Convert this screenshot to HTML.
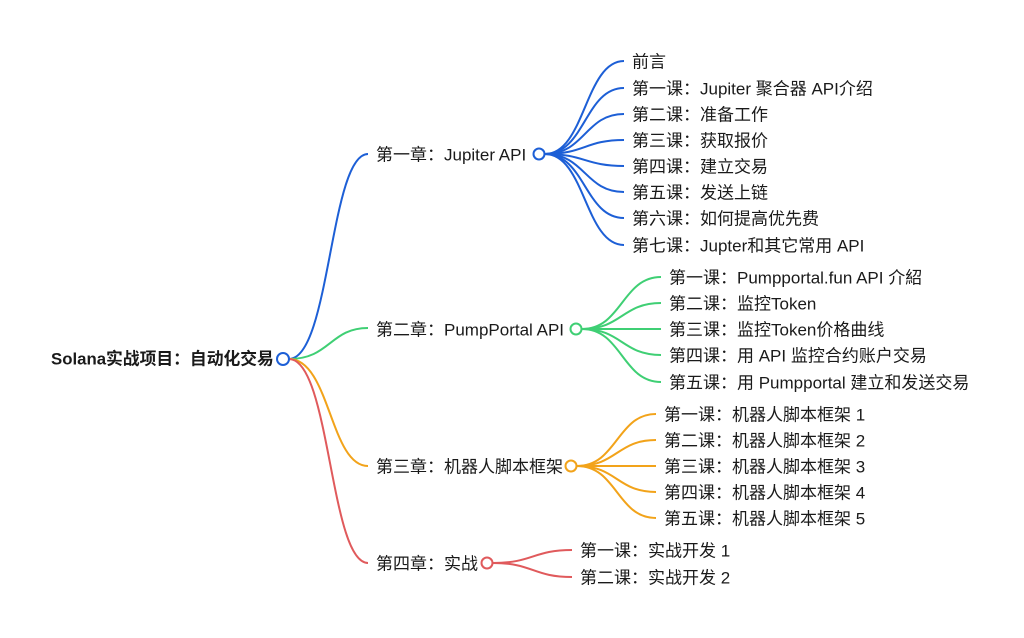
<!DOCTYPE html>
<html><head><meta charset="utf-8"><style>
html,body{margin:0;padding:0;background:#fff;}
svg{display:block}
text{font-family:"Liberation Sans","Noto Sans CJK SC",sans-serif;font-size:17px;fill:#1a1a1a;dominant-baseline:central}
path{fill:none;stroke-width:2}
</style></head><body>
<svg width="1024" height="638" viewBox="0 0 1024 638" xmlns="http://www.w3.org/2000/svg">
<text x="51" y="359" style="font-weight:bold;font-size:16.8px">Solana实战项目：自动化交易</text>
<path d="M289 359 C330 359 330 154 368 154" stroke="#1d5fd6"/>
<path d="M289 359 C330 359 330 328 368 328" stroke="#3fcf74"/>
<path d="M289 359 C330 359 330 466 368 466" stroke="#f2a31a"/>
<path d="M289 359 C330 359 330 563 368 563" stroke="#e05a5c"/>
<circle cx="283" cy="359" r="6" fill="#fff" stroke="#1d5fd6" stroke-width="2"/>

<text x="376" y="155">第一章：Jupiter API</text>
<g stroke="#1d5fd6">
<path d="M545 154 C585 154 585 61 624 61"/>
<path d="M545 154 C585 154 585 88 624 88"/>
<path d="M545 154 C585 154 585 114 624 114"/>
<path d="M545 154 C585 154 585 140 624 140"/>
<path d="M545 154 C585 154 585 166 624 166"/>
<path d="M545 154 C585 154 585 192 624 192"/>
<path d="M545 154 C585 154 585 218 624 218"/>
<path d="M545 154 C585 154 585 245 624 245"/>
</g>
<circle cx="539" cy="154" r="5.5" fill="#fff" stroke="#1d5fd6" stroke-width="2"/>
<text x="632" y="62">前言</text>
<text x="632" y="89">第一课：Jupiter 聚合器 API介绍</text>
<text x="632" y="115">第二课：准备工作</text>
<text x="632" y="141">第三课：获取报价</text>
<text x="632" y="167">第四课：建立交易</text>
<text x="632" y="193">第五课：发送上链</text>
<text x="632" y="219">第六课：如何提高优先费</text>
<text x="632" y="246">第七课：Jupter和其它常用 API</text>

<text x="376" y="330">第二章：PumpPortal API</text>
<g stroke="#3fcf74">
<path d="M582 329 C622 329 622 277 661 277"/>
<path d="M582 329 C622 329 622 303 661 303"/>
<path d="M582 329 C622 329 622 329 661 329"/>
<path d="M582 329 C622 329 622 355 661 355"/>
<path d="M582 329 C622 329 622 382 661 382"/>
</g>
<circle cx="576" cy="329" r="5.5" fill="#fff" stroke="#3fcf74" stroke-width="2"/>
<text x="669" y="278">第一课：Pumpportal.fun API 介紹</text>
<text x="669" y="304">第二课：监控Token</text>
<text x="669" y="330">第三课：监控Token价格曲线</text>
<text x="669" y="356">第四课：用 API 监控合约账户交易</text>
<text x="669" y="383">第五课：用 Pumpportal 建立和发送交易</text>

<text x="376" y="467">第三章：机器人脚本框架</text>
<g stroke="#f2a31a">
<path d="M577 466 C617 466 617 414 656 414"/>
<path d="M577 466 C617 466 617 440 656 440"/>
<path d="M577 466 C617 466 617 466 656 466"/>
<path d="M577 466 C617 466 617 492 656 492"/>
<path d="M577 466 C617 466 617 518 656 518"/>
</g>
<circle cx="571" cy="466" r="5.5" fill="#fff" stroke="#f2a31a" stroke-width="2"/>
<text x="664" y="415">第一课：机器人脚本框架 1</text>
<text x="664" y="441">第二课：机器人脚本框架 2</text>
<text x="664" y="467">第三课：机器人脚本框架 3</text>
<text x="664" y="493">第四课：机器人脚本框架 4</text>
<text x="664" y="519">第五课：机器人脚本框架 5</text>

<text x="376" y="564">第四章：实战</text>
<g stroke="#e05a5c">
<path d="M493 563 C533 563 533 550 572 550"/>
<path d="M493 563 C533 563 533 577 572 577"/>
</g>
<circle cx="487" cy="563" r="5.5" fill="#fff" stroke="#e05a5c" stroke-width="2"/>
<text x="580" y="551">第一课：实战开发 1</text>
<text x="580" y="578">第二课：实战开发 2</text>
</svg>
</body></html>
